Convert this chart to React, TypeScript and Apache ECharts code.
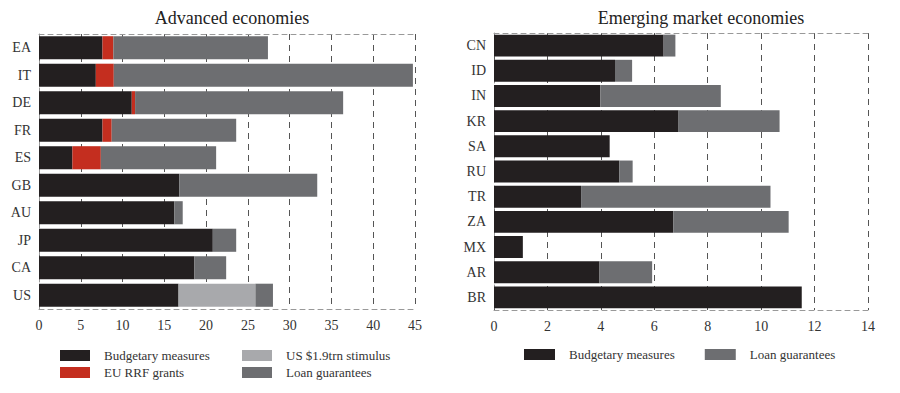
import React, { useEffect, useRef } from "react";
import * as echarts from "echarts";

const advCategories = ["EA", "IT", "DE", "FR", "ES", "GB", "AU", "JP", "CA", "US"];
const advBudgetary = [7.6, 6.8, 11.1, 7.6, 4.0, 16.8, 16.2, 20.8, 18.6, 16.7];
const advRRF = [1.3, 2.15, 0.4, 1.1, 3.4, 0, 0, 0, 0, 0];
const advStimulus = [0, 0, 0, 0, 0, 0, 0, 0, 0, 9.2];
const advLoan = [18.5, 35.8, 24.9, 14.9, 13.8, 16.5, 1.0, 2.8, 3.8, 2.1];

const emCategories = ["CN", "ID", "IN", "KR", "SA", "RU", "TR", "ZA", "MX", "AR", "BR"];
const emBudgetary = [6.35, 4.53, 3.98, 6.91, 4.33, 4.69, 3.26, 6.71, 1.08, 3.95, 11.52];
const emLoan = [0.44, 0.64, 4.51, 3.78, 0, 0.5, 7.09, 4.32, 0, 1.97, 0];

const advTicks = { min: 0, max: 45, interval: 5 };
const emTicks = { min: 0, max: 14, interval: 2 };

const FONT = "'Liberation Serif', 'DejaVu Serif', serif";
const C_BUDGET = "#231f20";
const C_RRF = "#c42e1f";
const C_STIM = "#a8a9ac";
const C_LOAN = "#6d6e71";

export default function App() {
  const ref = useRef<HTMLDivElement>(null);
  useEffect(() => {
    document.body.style.margin = "0";
    const chart = echarts.init(ref.current!, undefined, { renderer: "svg" });
    const label = { fontFamily: FONT, fontSize: 14, color: "#333" };
    const borderLine = { show: true, lineStyle: { color: "#999", type: [5, 4] as any, width: 1 } };
    const xBottom = (grid: number, t: any) => ({
      type: "value",
      gridIndex: grid,
      min: t.min,
      max: t.max,
      interval: t.interval,
      position: "bottom",
      axisLine: borderLine,
      axisTick: { show: false },
      axisLabel: { ...label, margin: 9 },
      splitLine: { show: true, lineStyle: { color: "#555", type: [6, 5] as any, width: 1 } },
    });
    const xTop = (grid: number, t: any) => ({
      type: "value",
      gridIndex: grid,
      min: t.min,
      max: t.max,
      interval: t.interval,
      position: "top",
      axisLine: borderLine,
      axisTick: { show: false },
      axisLabel: { show: false },
      splitLine: { show: false },
    });
    const yAxis = (grid: number, cats: string[]) => ({
      type: "category",
      gridIndex: grid,
      data: cats,
      inverse: true,
      axisLine: borderLine,
      axisTick: { show: false },
      axisLabel: { ...label, margin: 8 },
      splitLine: { show: false },
    });
    const bar = (name: string, data: number[], color: string, xi: number, yi: number, stack: string, gap: string) => ({
      type: "bar",
      name,
      data,
      stack,
      xAxisIndex: xi,
      yAxisIndex: yi,
      barCategoryGap: gap,
      itemStyle: { color },
      emphasis: { disabled: true },
    });
    const legendText = { fontFamily: FONT, fontSize: 13, color: "#333", padding: [0, 0, 0, 9] };
    const titleStyle = { fontFamily: FONT, fontSize: 18, fontWeight: "normal", color: "#222" };
    chart.setOption({
      animation: false,
      title: [
        { text: "Advanced economies", left: 227, top: 4, textAlign: "center", textStyle: titleStyle },
        { text: "Emerging market economies", left: 696, top: 4, textAlign: "center", textStyle: titleStyle },
      ],
      grid: [
        { left: 39, right: 485, top: 34, bottom: 84 },
        { left: 494, right: 32, top: 33, bottom: 83 },
      ],
      xAxis: [xBottom(0, advTicks), xTop(0, advTicks), xBottom(1, emTicks), xTop(1, emTicks)],
      yAxis: [yAxis(0, advCategories), yAxis(1, emCategories)],
      legend: [
        { left: 55, top: 344, orient: "vertical", itemWidth: 30, itemHeight: 11, itemGap: 4, icon: "rect", textStyle: legendText, data: ["Budgetary measures", "EU RRF grants"], selectedMode: false },
        { left: 237, top: 344, orient: "vertical", itemWidth: 30, itemHeight: 11, itemGap: 4, icon: "rect", textStyle: legendText, data: ["US $1.9trn stimulus", "Loan guarantees"], selectedMode: false },
        { left: 519, top: 343, orient: "horizontal", itemWidth: 31, itemHeight: 11, itemGap: 30, icon: "rect", textStyle: legendText, data: ["Budgetary measures", "Loan guarantees"], selectedMode: false },
      ],
      series: [
        bar("Budgetary measures", advBudgetary, C_BUDGET, 0, 0, "adv", "16%"),
        bar("EU RRF grants", advRRF, C_RRF, 0, 0, "adv", "16%"),
        bar("US $1.9trn stimulus", advStimulus, C_STIM, 0, 0, "adv", "16%"),
        bar("Loan guarantees", advLoan, C_LOAN, 0, 0, "adv", "16%"),
        bar("Budgetary measures", emBudgetary, C_BUDGET, 2, 1, "em", "13%"),
        bar("Loan guarantees", emLoan, C_LOAN, 2, 1, "em", "13%"),
      ],
    });
    return () => chart.dispose();
  }, []);
  return <div ref={ref} style={{ width: 900, height: 393 }} />;
}
